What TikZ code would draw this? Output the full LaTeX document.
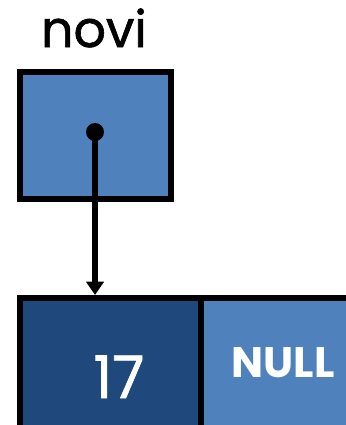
\documentclass[tikz,border=0pt]{standalone}
\usepackage{fontspec}
\setmainfont{Poppins}
\newfontfamily\heavyfont{Poppins}[FakeBold=1.2]
\usetikzlibrary{arrows.meta}
\definecolor{cellblue}{HTML}{4F81BD}
\definecolor{datablue}{HTML}{1F497D}
\begin{document}
\begin{tikzpicture}[x=0.75pt,y=-0.75pt]
        \useasboundingbox (0,0) rectangle (346,425);
        \clip (0,0) rectangle (346,425);

        \coordinate (dot) at (95,132);
        \coordinate (tip) at (95,295);

        % pointer variable
        \node[font=\heavyfont\fontsize{38}{42}\selectfont, anchor=base] (novi) at (94,47) {novi};
        \draw[fill=cellblue, line width=4.2pt] (20,72) rectangle (171,199);

        % list element: data and next
        \draw[fill=datablue, line width=4.5pt] (20,298) rectangle (201,428);
        \draw[fill=cellblue, line width=4.5pt] (201,298) rectangle (370,428);
        \node[font=\heavyfont\fontsize{44}{46}\selectfont, white, anchor=base] (data) at (119,398) {17};
        \node[font=\fontsize{32}{34}\selectfont\bfseries, white, anchor=base] (next) at (283,377) {NULL};

        \fill (dot) circle[radius=6.75pt];
        \draw[line width=4pt, -{Triangle[width=13pt,length=10pt]}] (dot) -- (tip);
    \end{tikzpicture}
\end{document}
